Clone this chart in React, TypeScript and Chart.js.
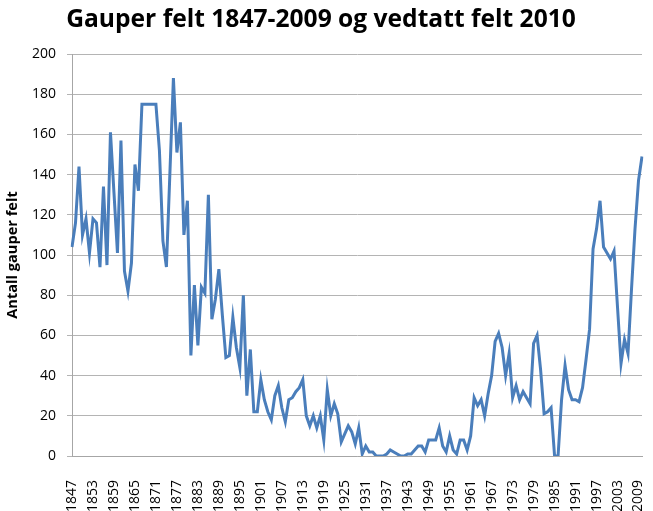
import React, { useEffect, useRef } from 'react';
import { Chart, registerables } from 'chart.js';

Chart.register(...registerables);

const FIRST_YEAR = 1847;
const LAST_YEAR = 2010;
const years: string[] = Array.from(
  { length: LAST_YEAR - FIRST_YEAR + 1 },
  (_, i) => String(FIRST_YEAR + i)
);

// Antall gauper felt, 1847–2010
const lynxKilled: number[] = [
  104, 116, 144, 110, 118, 101, 118, 116, 94, 134, // 1847-1856
  95, 161, 131, 101, 157, 92, 82, 96, 145, 132, // 1857-1866
  175, 175, 175, 175, 175, 152, 107, 94, 141, 188, // 1867-1876
  151, 166, 110, 127, 50, 85, 55, 84, 81, 130, // 1877-1886
  68, 78, 93, 70, 49, 50, 69, 54, 44, 80, // 1887-1896
  30, 53, 22, 22, 38, 28, 22, 18, 30, 35, // 1897-1906
  24, 17, 28, 29, 32, 34, 38, 20, 15, 20, // 1907-1916
  14, 20, 8, 33, 20, 26, 21, 7, 11, 15, // 1917-1926
  12, 6, 14, 1, 5, 2, 2, 0, 0, 0, // 1927-1936
  1, 3, 2, 1, 0, 0, 1, 1, 3, 5, // 1937-1946
  5, 2, 8, 8, 8, 14, 5, 2, 10, 3, // 1947-1956
  1, 8, 8, 3, 10, 29, 25, 28, 20, 31, // 1957-1966
  40, 57, 61, 54, 40, 51, 29, 35, 28, 32, // 1967-1976
  29, 26, 56, 60, 43, 21, 22, 24, 0, 0, // 1977-1986
  28, 45, 33, 28, 28, 27, 34, 48, 63, 103, // 1987-1996
  113, 127, 104, 101, 98, 102, 74, 46, 58, 51, // 1997-2006
  83, 113, 137, 149, // 2007-2010
];

const tickYears: string[] = [
  '1847', '1853', '1859', '1865', '1871', '1877', '1883', '1889', '1895',
  '1901', '1907', '1913', '1919', '1925', '1931', '1937', '1943', '1949',
  '1955', '1961', '1967', '1973', '1979', '1985', '1991', '1997', '2003', '2009',
];

const TITLE = 'Gauper felt 1847-2009 og vedtatt felt 2010';
const Y_TITLE = 'Antall gauper felt';
const Y_MIN = 0;
const Y_MAX = 200;
const Y_STEP = 20;

export default function App() {
  const ref = useRef<HTMLCanvasElement>(null);

  useEffect(() => {
    if (!ref.current) return;
    const font = 'Open Sans';
    const chart = new Chart(ref.current, {
      type: 'line',
      data: {
        labels: years,
        datasets: [
          {
            data: lynxKilled,
            borderColor: '#4a7ebb',
            borderWidth: 3,
            pointRadius: 0,
            tension: 0,
            fill: false,
          },
        ],
      },
      options: {
        animation: false,
        responsive: false,
        layout: { padding: { left: 0, right: 11, top: 0, bottom: 0 } },
        plugins: {
          legend: { display: false },
          tooltip: { enabled: false },
          title: {
            display: true,
            text: TITLE,
            color: '#000',
            font: { family: font, size: 24.6, weight: 'bold', lineHeight: 1.2 },
            padding: { top: 5, bottom: 19.5 },
          },
        },
        scales: {
          x: {
            grid: { display: false },
            border: { display: true, color: '#a6a6a6', width: 1 },
            ticks: {
              autoSkip: false,
              minRotation: 90,
              maxRotation: 90,
              padding: 16,
              color: '#000',
              font: { family: font, size: 14 },
              callback: (_v: any, i: number) =>
                tickYears.includes(years[i]) ? years[i] : '',
            },
            afterFit: (s: any) => {
              s.height = 55;
              s.paddingLeft = 0;
              s.paddingRight = 0;
            },
          },
          y: {
            min: Y_MIN,
            max: Y_MAX,
            ticks: {
              stepSize: Y_STEP,
              padding: 11,
              color: '#000',
              font: { family: font, size: 14 },
            },
            grid: { color: '#b4b4b4', tickLength: 5 },
            border: { color: '#a6a6a6' },
            title: {
              display: true,
              text: Y_TITLE,
              color: '#000',
              font: { family: font, size: 14.6, weight: 'bold' },
              padding: { top: 4, bottom: 0 },
            },
            afterFit: (s: any) => {
              s.width = 72;
              s.paddingTop = 0;
              s.paddingBottom = 0;
            },
          },
        },
      },
    } as any);
    return () => chart.destroy();
  }, []);

  return (
    <div
      style={{
        position: 'fixed',
        left: 0,
        top: 0,
        width: 653,
        height: 511,
        background: '#fff',
      }}
    >
      <canvas ref={ref} width={653} height={511} />
    </div>
  );
}
